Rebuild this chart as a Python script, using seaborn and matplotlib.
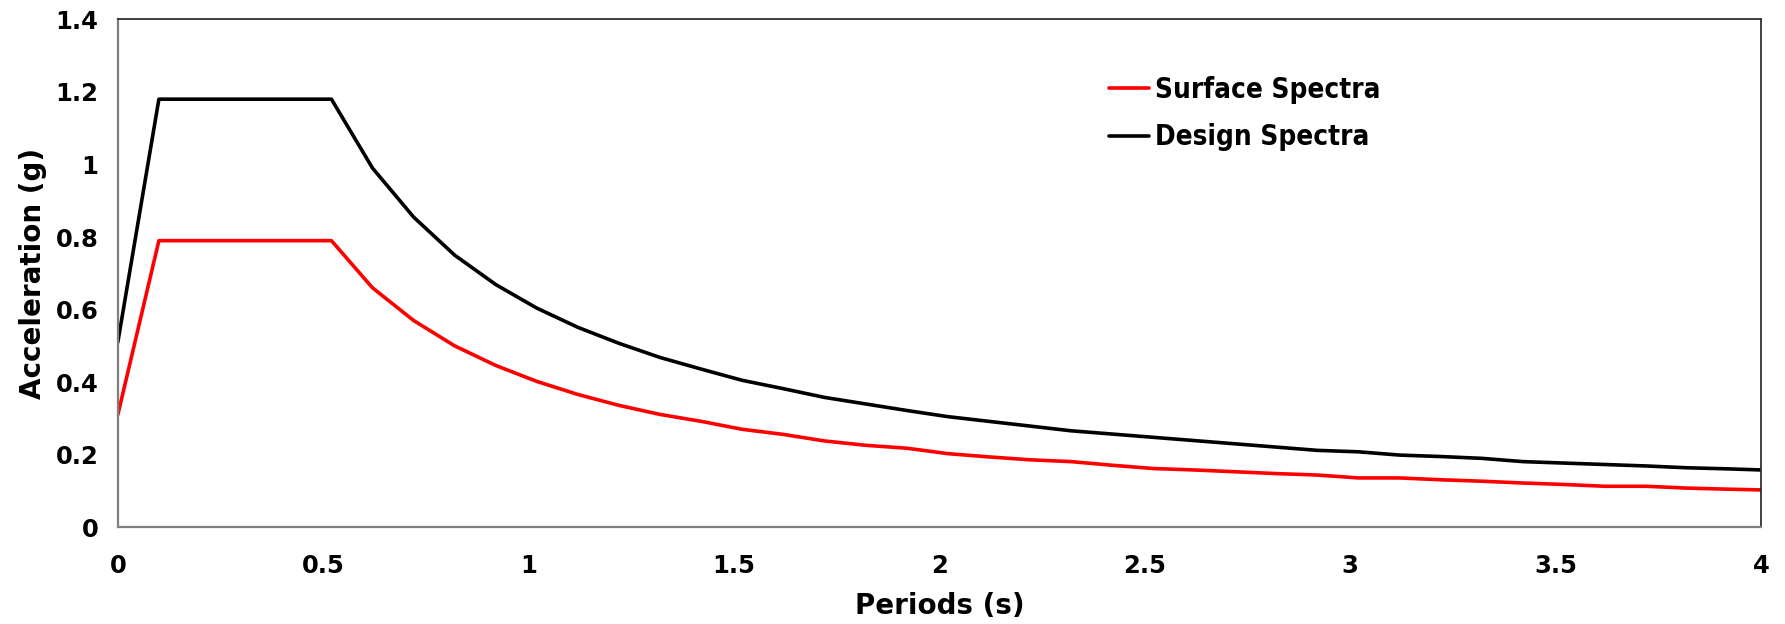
import matplotlib
matplotlib.use("Agg")
import matplotlib.pyplot as plt
import seaborn as sns
from matplotlib.ticker import FuncFormatter, MultipleLocator

periods = [0, 0.1, 0.52, 0.62, 0.72, 0.82, 0.92, 1.02, 1.12, 1.22, 1.32, 1.42,
           1.52, 1.62, 1.72, 1.82, 1.92, 2.02, 2.12, 2.22, 2.32, 2.42, 2.52,
           2.62, 2.72, 2.82, 2.92, 3.02, 3.12, 3.22, 3.32, 3.42, 3.52, 3.62,
           3.72, 3.82, 3.92, 4.0]

surface = [0.31, 0.79, 0.79, 0.66, 0.57, 0.50, 0.446, 0.402, 0.366, 0.336,
           0.311, 0.292, 0.27, 0.256, 0.238, 0.226, 0.218, 0.203, 0.194,
           0.186, 0.181, 0.171, 0.162, 0.158, 0.153, 0.148, 0.144, 0.136,
           0.136, 0.131, 0.127, 0.122, 0.118, 0.113, 0.113, 0.108, 0.105,
           0.103]

design = [0.51, 1.18, 1.18, 0.99, 0.855, 0.75, 0.669, 0.604, 0.551, 0.507,
          0.468, 0.436, 0.405, 0.382, 0.358, 0.34, 0.322, 0.305, 0.292,
          0.279, 0.266, 0.257, 0.248, 0.239, 0.23, 0.221, 0.212, 0.208,
          0.199, 0.195, 0.19, 0.181, 0.177, 0.173, 0.169, 0.164, 0.161,
          0.158]

sns.set_style("white")
plt.rcParams['font.family'] = ['DejaVu Sans']
plt.rcParams['text.color'] = 'black'
plt.rcParams['axes.labelcolor'] = 'black'
plt.rcParams['xtick.color'] = 'black'
plt.rcParams['ytick.color'] = 'black'

fig, ax = plt.subplots(figsize=(17.85, 6.24), dpi=100)
fig.subplots_adjust(left=0.066, right=0.9866, top=0.969, bottom=0.155)

sns.lineplot(x=periods, y=surface, color="#ff0000", lw=2.6, label="Surface Spectra", ax=ax)
sns.lineplot(x=periods, y=design, color="#000000", lw=2.6, label="Design Spectra", ax=ax)

ax.set_xlim(0, 4)
ax.set_ylim(0, 1.4)
ax.xaxis.set_major_locator(MultipleLocator(0.5))
ax.yaxis.set_major_locator(MultipleLocator(0.2))
fmt = FuncFormatter(lambda v, p: "{:g}".format(round(v, 2)))
ax.xaxis.set_major_formatter(fmt)
ax.yaxis.set_major_formatter(fmt)
ax.tick_params(length=0, labelsize=17.5)
ax.tick_params(axis="x", pad=19)
ax.tick_params(axis="y", pad=14)
for lbl in ax.get_xticklabels() + ax.get_yticklabels():
    lbl.set_fontweight("bold")

ax.set_xlabel("Periods (s)", fontsize=20, fontweight="bold", labelpad=10)
ax.set_ylabel("Acceleration (g)", fontsize=20, fontweight="bold", labelpad=6)

for side in ["left", "bottom"]:
    ax.spines[side].set_color("#7f7f7f")
    ax.spines[side].set_linewidth(1.6)
for side in ["top", "right"]:
    ax.spines[side].set_color("#303030")
    ax.spines[side].set_linewidth(1.3)

leg = ax.legend(loc="upper left", bbox_to_anchor=(0.588, 0.938), frameon=False,
                handlelength=1.45, handletextpad=0.2, labelspacing=0.7,
                prop={"size": 20, "weight": "bold", "stretch": "condensed"})

fig.savefig("out.png", dpi=100)
